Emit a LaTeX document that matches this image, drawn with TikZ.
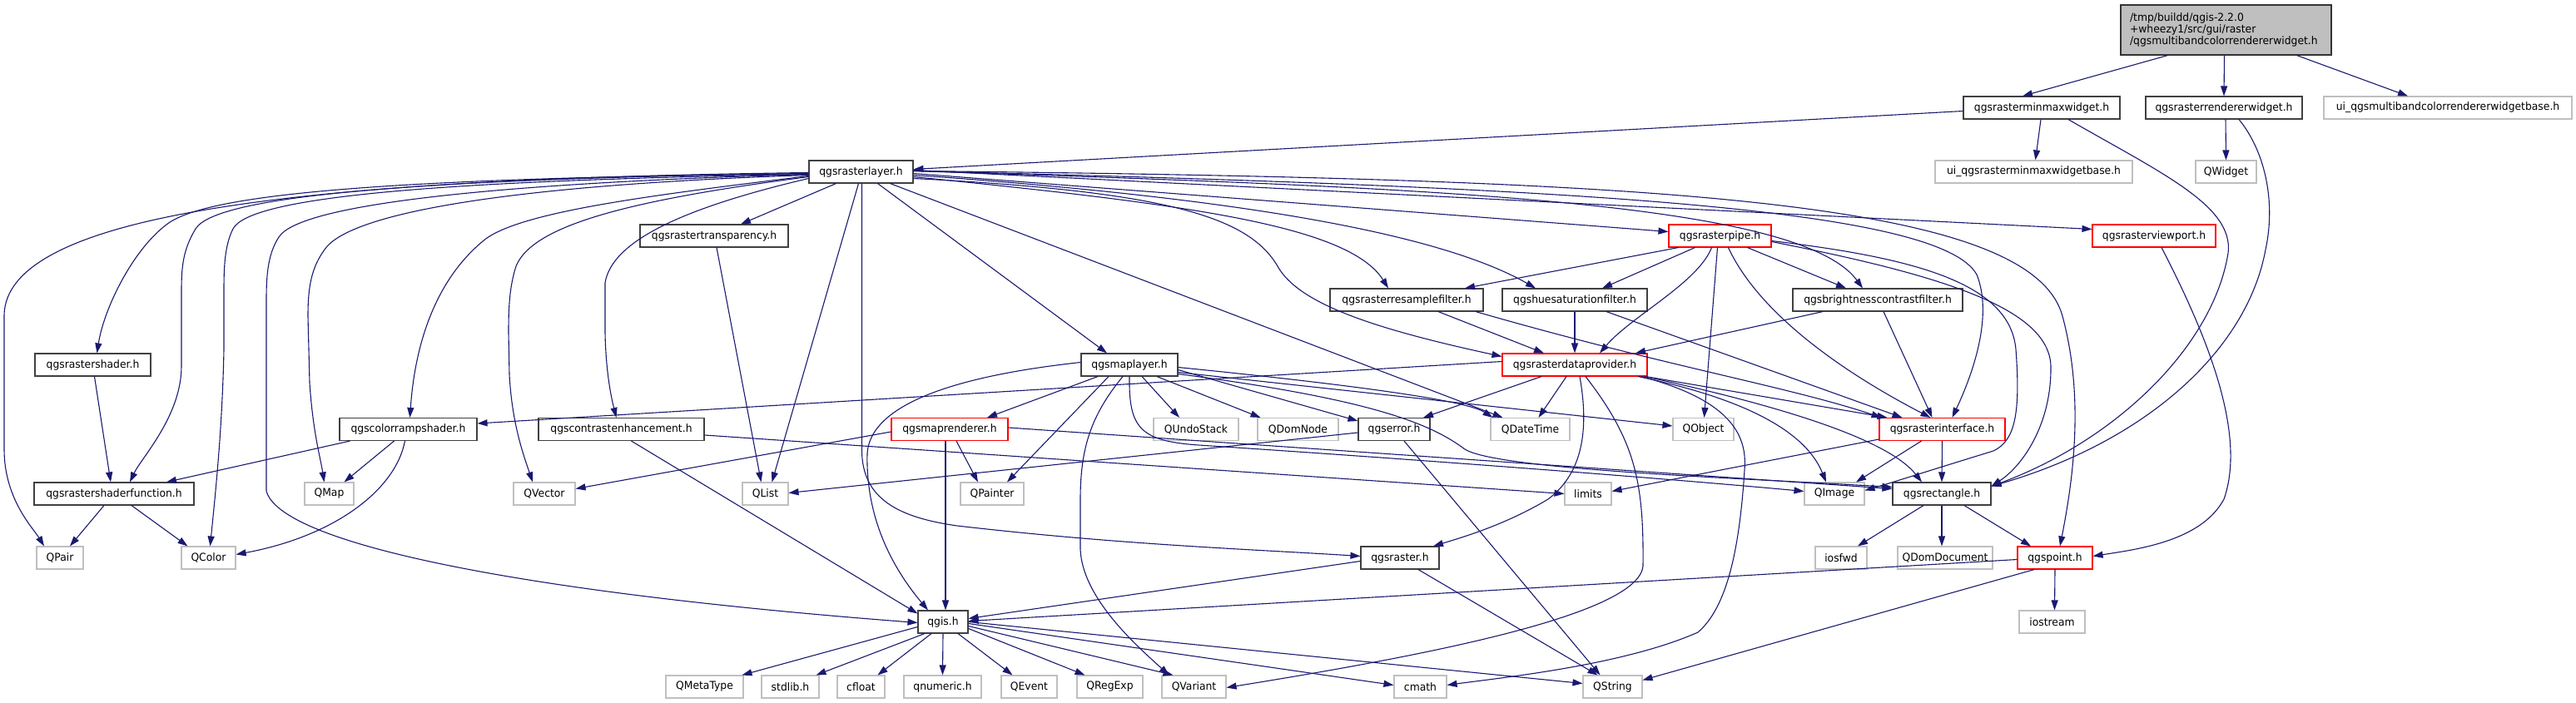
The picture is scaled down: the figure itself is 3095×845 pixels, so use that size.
\documentclass[tikz,border=0pt]{standalone}
\usepackage{fontspec}
\setmainfont{DejaVu Sans}[FakeStretch=0.95]
\usetikzlibrary{arrows.meta}
\definecolor{mblue}{HTML}{191970}
\definecolor{extgray}{HTML}{BFBFBF}
\begin{document}
\begin{tikzpicture}[x=1pt,y=-1pt,
  base/.style={rectangle,inner sep=0pt,minimum height=27pt,line width=1.1pt,fill=white,font=\fontsize{13}{14}\selectfont},
  doc/.style={base,draw=black!75},
  ext/.style={base,draw=extgray},
  trunc/.style={base,draw=red},
  mainbox/.style={base,draw=black!80,fill=extgray,align=left,inner xsep=11pt,text width=231pt,minimum height=60pt},
  edge/.style={draw=mblue,line width=1.1pt,-{Triangle[length=12pt,width=8pt]}}]
\useasboundingbox (0,0) rectangle (3095,845);
% nodes
\node[mainbox] (main) at (2674.5,36) {/tmp/buildd/qgis-2.2.0\\+wheezy1/src/gui/raster\\/qgsmultibandcolorrendererwidget.h};
\node[doc,minimum width=188] (rminmax) at (2453,129.5) {qgsrasterminmaxwidget.h};
\node[doc,minimum width=188] (rrendw) at (2672,129.5) {qgsrasterrendererwidget.h};
\node[ext,minimum width=298] (uimulti) at (2941,129.5) {ui\_qgsmultibandcolorrendererwidgetbase.h};
\node[doc,minimum width=125] (rlayer) at (1034.5,206.5) {qgsrasterlayer.h};
\node[ext,minimum width=237] (uiminmax) at (2443.5,206.5) {ui\_qgsrasterminmaxwidgetbase.h};
\node[ext,minimum width=73] (qwidget) at (2674.5,206.5) {QWidget};
\node[doc,minimum width=178] (rtransp) at (858,283.5) {qgsrastertransparency.h};
\node[trunc,minimum width=123] (rpipe) at (2066.5,283.5) {qgsrasterpipe.h};
\node[trunc,minimum width=148] (rviewport) at (2588,283.5) {qgsrasterviewport.h};
\node[doc,minimum width=184] (rresample) at (1690,360.5) {qgsrasterresamplefilter.h};
\node[doc,minimum width=174] (huesat) at (1892,360.5) {qgshuesaturationfilter.h};
\node[doc,minimum width=204] (brightness) at (2256,360.5) {qgsbrightnesscontrastfilter.h};
\node[doc,minimum width=139] (rshader) at (111.5,438.5) {qgsrastershader.h};
\node[doc,minimum width=116] (maplayer) at (1357,438.5) {qgsmaplayer.h};
\node[trunc,minimum width=174] (rdataprov) at (1892,438.5) {qgsrasterdataprovider.h};
\node[doc,minimum width=165] (colorramp) at (490.5,516) {qgscolorrampshader.h};
\node[doc,minimum width=199] (contrast) at (746.5,516) {qgscontrastenhancement.h};
\node[trunc,minimum width=140] (maprend) at (1141,516) {qgsmaprenderer.h};
\node[ext,minimum width=102] (qundo) at (1437,516) {QUndoStack};
\node[ext,minimum width=97] (qdomnode) at (1559.5,516) {QDomNode};
\node[doc,minimum width=86] (qgserror) at (1675,516) {qgserror.h};
\node[ext,minimum width=95] (qdatetime) at (1838.5,516) {QDateTime};
\node[ext,minimum width=73] (qobject) at (2046.5,516) {QObject};
\node[trunc,minimum width=151] (rinterface) at (2333.5,516) {qgsrasterinterface.h};
\node[doc,minimum width=192] (rshaderfn) at (137,593.5) {qgsrastershaderfunction.h};
\node[ext,minimum width=59] (qmap) at (395.5,593.5) {QMap};
\node[ext,minimum width=74] (qvector) at (654,593.5) {QVector};
\node[ext,minimum width=55] (qlist) at (919.5,593.5) {QList};
\node[ext,minimum width=76] (qpainter) at (1192,593.5) {QPainter};
\node[ext,minimum width=56] (limits) at (1908,593.5) {limits};
\node[ext,minimum width=72] (qimage) at (2204,593.5) {QImage};
\node[doc,minimum width=118] (qgsrect) at (2333,593.5) {qgsrectangle.h};
\node[ext,minimum width=56] (qpair) at (72,670.5) {QPair};
\node[ext,minimum width=65] (qcolor) at (250.5,670.5) {QColor};
\node[doc,minimum width=94] (qgsraster) at (1682,670.5) {qgsraster.h};
\node[ext,minimum width=62] (iosfwd) at (2212,670.5) {iosfwd};
\node[ext,minimum width=114] (qdomdoc) at (2337,670.5) {QDomDocument};
\node[trunc,minimum width=90] (qgspoint) at (2469,670.5) {qgspoint.h};
\node[doc,minimum width=60] (qgis) at (1133,747.5) {qgis.h};
\node[ext,minimum width=79] (iostream) at (2465.5,747.5) {iostream};
\node[ext,minimum width=93] (qmetatype) at (846.5,825.5) {QMetaType};
\node[ext,minimum width=69] (stdlib) at (949.5,825.5) {stdlib.h};
\node[ext,minimum width=57] (cfloat) at (1034.5,825.5) {cfloat};
\node[ext,minimum width=93] (qnumeric) at (1132.5,825.5) {qnumeric.h};
\node[ext,minimum width=67] (qevent) at (1236.5,825.5) {QEvent};
\node[ext,minimum width=79] (qregexp) at (1333.5,825.5) {QRegExp};
\node[ext,minimum width=77] (qvariant) at (1434.5,825.5) {QVariant};
\node[ext,minimum width=63] (cmath) at (1706.5,825.5) {cmath};
\node[ext,minimum width=71] (qstring) at (1937.5,825.5) {QString};
% main
\draw[edge] ([xshift=-70]main.south) -- ([xshift=-23]rminmax.north);
\draw[edge] ([xshift=-2]main.south) -- (rrendw.north);
\draw[edge] ([xshift=85]main.south) -- ([xshift=-48]uimulti.north);
% rminmax
\draw[edge] ([yshift=-4]rminmax.west) -- ([yshift=3]rlayer.east);
\draw[edge] ([xshift=-1]rminmax.south) -- ([xshift=2]uiminmax.north);
\draw[edge] ([xshift=32]rminmax.south) .. controls (2600,210) and (2690,250) .. (2676,310) .. controls (2655,420) and (2540,530) .. ([yshift=9]qgsrect.east);
% rrendw
\draw[edge] ([xshift=2]rrendw.south) -- (qwidget.north);
\draw[edge] ([xshift=18]rrendw.south) .. controls (2720,180) and (2735,240) .. (2722,300) .. controls (2700,420) and (2580,530) .. ([yshift=9]qgsrect.east);
% rlayer left bundle
\draw[edge] ([yshift=-1]rlayer.west) .. controls (400,215) and (5,250) .. (5,380) -- (5,540) .. controls (5,600) and (40,635) .. ([xshift=-19]qpair.north);
\draw[edge] ([yshift=-2]rlayer.west) .. controls (500,214) and (250,230) .. (200,270) .. controls (160,300) and (125,370) .. ([xshift=5]rshader.north);
\draw[edge] ([yshift=-2]rlayer.west) .. controls (500,215) and (260,235) .. (235,275) .. controls (220,300) and (218,320) .. (218,350) -- (218,440) .. controls (218,500) and (170,550) .. ([xshift=19]rshaderfn.north);
\draw[edge] ([yshift=-3]rlayer.west) .. controls (520,217) and (300,237) .. (280,275) .. controls (270,295) and (269,320) .. (269,350) -- (269,420) .. controls (267,520) and (258,600) .. ([xshift=2]qcolor.north);
\draw[edge] ([yshift=-3]rlayer.west) .. controls (600,220) and (360,245) .. (335,285) .. controls (322,305) and (320,330) .. (320,360) -- (320,590) .. controls (335,650) and (600,710) .. ([yshift=-1]qgis.west);
\draw[edge] ([yshift=-4]rlayer.west) .. controls (620,222) and (420,255) .. (390,300) .. controls (374,322) and (370,345) .. (370,380) -- (372,460) .. controls (376,520) and (385,550) .. ([xshift=-6]qmap.north);
\draw[edge] ([yshift=-5]rlayer.west) .. controls (780,235) and (620,255) .. (580,290) .. controls (520,340) and (498,420) .. ([xshift=2]colorramp.north);
\draw[edge] ([yshift=-6]rlayer.west) .. controls (760,240) and (640,270) .. (620,320) .. controls (612,345) and (611,370) .. (611,400) -- (612,450) .. controls (615,510) and (630,550) .. ([xshift=-14]qvector.north);
\draw[edge] ([yshift=-8]rlayer.west) .. controls (820,250) and (735,290) .. (727,340) -- (727,400) .. controls (728,450) and (735,480) .. ([xshift=-6]contrast.north);
% rlayer bottom
\draw[edge] ([xshift=-30]rlayer.south) -- ([xshift=32]rtransp.north);
\draw[edge] ([xshift=-3]rlayer.south) -- ([xshift=8]qlist.north);
\draw[edge] ([xshift=1]rlayer.south) -- (1035.5,540) .. controls (1035,600) and (1080,622) .. (1150,632) .. controls (1350,655) and (1500,660) .. ([yshift=2]qgsraster.west);
\draw[edge] ([xshift=20]rlayer.south) -- ([xshift=-27]maplayer.north);
\draw[edge] ([xshift=35]rlayer.south) -- ([xshift=-33]qdatetime.north);
% rlayer right bundle
\draw[edge] ([yshift=-6]rlayer.east) .. controls (1420,245) and (1620,270) .. ([xshift=-22]rresample.north);
\draw[edge] ([yshift=-4]rlayer.east) .. controls (1450,235) and (1720,275) .. ([xshift=-47]huesat.north);
\draw[edge] ([yshift=-2]rlayer.east) -- ([yshift=5]rpipe.west);
\draw[edge] ([yshift=-8]rlayer.east) .. controls (1400,230) and (1500,260) .. (1535,320) .. controls (1560,365) and (1650,395) .. ([yshift=10]rdataprov.west);
\draw[edge] ([yshift=1]rlayer.east) .. controls (1700,225) and (2160,240) .. ([xshift=-18]brightness.north);
\draw[edge] ([yshift=2]rlayer.east) -- ([yshift=8]rviewport.west);
\draw[edge] ([yshift=1]rlayer.east) .. controls (1900,225) and (2330,250) .. (2375,330) .. controls (2395,380) and (2370,450) .. ([xshift=12]rinterface.north);
\draw[edge] ([yshift=1]rlayer.east) .. controls (2000,215) and (2440,240) .. (2478,380) .. controls (2505,480) and (2490,580) .. ([xshift=6]qgspoint.north);
% rtransp
\draw[edge] ([xshift=3]rtransp.south) -- ([xshift=-5]qlist.north);
% rpipe
\draw[edge] ([xshift=-50]rpipe.south) -- ([xshift=70]rresample.north);
\draw[edge] ([xshift=-30]rpipe.south) -- ([xshift=33]huesat.north);
\draw[edge] ([xshift=-10]rpipe.south) .. controls (2040,340) and (1960,380) .. ([xshift=30]rdataprov.north);
\draw[edge] ([xshift=-3]rpipe.south) -- ([xshift=1]qobject.north);
\draw[edge] ([xshift=10]rpipe.south) .. controls (2110,370) and (2200,440) .. ([xshift=-14]rinterface.north);
\draw[edge] ([xshift=33]rpipe.south) -- ([xshift=-38]brightness.north);
\draw[edge] ([yshift=-6]rpipe.east) .. controls (2300,310) and (2415,340) .. (2422,420) .. controls (2428,500) and (2420,530) .. (2395,542) .. controls (2320,565) and (2280,578) .. ([yshift=4]qimage.east);
\draw[edge] ([yshift=-7]rpipe.east) .. controls (2330,330) and (2462,370) .. (2464,440) .. controls (2465,510) and (2430,560) .. ([yshift=9]qgsrect.east);
% rviewport
\draw[edge] ([xshift=9]rviewport.south) .. controls (2650,400) and (2700,520) .. (2672,600) .. controls (2645,650) and (2570,660) .. ([yshift=2]qgspoint.east);
% filters
\draw[edge] ([xshift=38]rresample.south) -- ([xshift=-37]rdataprov.north);
\draw[edge] ([xshift=83]rresample.south) .. controls (2000,440) and (2150,465) .. ([xshift=-73]rinterface.north);
\draw[edge] (huesat.south) -- (rdataprov.north);
\draw[edge] ([xshift=38]huesat.south) -- ([xshift=-48]rinterface.north);
\draw[edge] ([xshift=-66]brightness.south) -- ([xshift=73]rdataprov.north);
\draw[edge] ([xshift=7]brightness.south) -- ([xshift=-12]rinterface.north);
% rdataprov
\draw[edge] ([yshift=4]rdataprov.west) -- ([yshift=7]colorramp.east);
\draw[edge] ([xshift=-40]rdataprov.south) -- ([xshift=35]qgserror.north);
\draw[edge] ([xshift=-10]rdataprov.south) -- ([xshift=10]qdatetime.north);
\draw[edge] ([xshift=6]rdataprov.south) .. controls (1910,520) and (1900,570) .. (1860,600) .. controls (1810,630) and (1760,645) .. ([xshift=40]qgsraster.north);
\draw[edge] ([xshift=13]rdataprov.south) .. controls (1965,530) and (1975,580) .. (1974,680) .. controls (1970,740) and (1700,790) .. ([yshift=-1]qvariant.east);
\draw[edge] ([xshift=80]rdataprov.south) .. controls (2075,480) and (2100,520) .. (2096,565) .. controls (2090,660) and (2075,730) .. (2040,760) .. controls (1950,800) and (1800,815) .. ([yshift=2]cmath.east);
\draw[edge] ([xshift=76]rdataprov.south) .. controls (2100,480) and (2170,520) .. ([xshift=-10]qimage.north);
\draw[edge] ([xshift=85]rdataprov.south) -- ([xshift=-66]rinterface.north);
\draw[edge] ([xshift=84]rdataprov.south) .. controls (2150,490) and (2270,530) .. ([xshift=-24]qgsrect.north);
% qgserror
\draw[edge] ([yshift=-4]qgserror.west) -- ([yshift=1]qlist.east);
\draw[edge] ([xshift=12]qgserror.south) -- ([xshift=-15]qstring.north);
% maplayer
\draw[edge] ([xshift=-38]maplayer.south) -- ([xshift=45]maprend.north);
\draw[edge] ([xshift=-25]maplayer.south) -- ([xshift=18]qpainter.north);
\draw[edge] ([xshift=-8]maplayer.south) .. controls (1310,500) and (1298,540) .. (1298,600) -- (1298,660) .. controls (1300,720) and (1370,780) .. ([xshift=-30]qvariant.north);
\draw[edge] (maplayer.south) .. controls (1356,515) and (1370,530) .. (1440,535) .. controls (1700,552) and (2000,575) .. ([yshift=3]qimage.west);
\draw[edge] ([xshift=15]maplayer.south) -- ([xshift=-20]qundo.north);
\draw[edge] ([xshift=33]maplayer.south) -- ([xshift=-45]qdomnode.north);
\draw[edge] ([yshift=3]maplayer.west) .. controls (1120,455) and (1045,495) .. (1042,545) .. controls (1040,620) and (1070,680) .. ([xshift=-18]qgis.north);
\draw[edge] ([yshift=-6]maplayer.east) -- ([yshift=10]qgserror.west);
\draw[edge] ([yshift=-3]maplayer.east) .. controls (1600,460) and (1760,480) .. ([xshift=-45]qdatetime.north);
\draw[edge] ([yshift=-9]maplayer.east) -- ([yshift=4]qobject.west);
\draw[edge] ([yshift=-11]maplayer.east) .. controls (1650,480) and (1720,510) .. (1760,540) .. controls (1800,565) and (2100,575) .. ([yshift=8]qgsrect.west);
% maprend
\draw[edge] ([xshift=8]maprend.south) -- ([xshift=-17]qpainter.north);
\draw[edge] ([xshift=-5]maprend.south) -- ([xshift=3]qgis.north);
\draw[edge] ([yshift=-3]maprend.west) -- ([yshift=6]qvector.east);
\draw[edge] ([yshift=2]maprend.east) -- ([yshift=6]qgsrect.west);
% contrast
\draw[edge] ([xshift=12]contrast.south) -- ([yshift=10]qgis.west);
\draw[edge] ([yshift=-7]contrast.east) -- (limits.west);
% rinterface
\draw[edge] ([yshift=-12]rinterface.west) -- ([yshift=3]limits.east);
\draw[edge] ([xshift=-25]rinterface.south) -- ([xshift=26]qimage.north);
\draw[edge] (rinterface.south) -- (qgsrect.north);
% qgsrect
\draw[edge] ([xshift=-22]qgsrect.south) -- ([xshift=20]iosfwd.north);
\draw[edge] (qgsrect.south) -- ([xshift=-4]qdomdoc.north);
\draw[edge] ([xshift=27]qgsrect.south) -- ([xshift=-29]qgspoint.north);
% qgspoint
\draw[edge] ([yshift=-2]qgspoint.west) -- ([yshift=1]qgis.east);
\draw[edge] (qgspoint.south) -- ([xshift=3]iostream.north);
\draw[edge] ([xshift=-25]qgspoint.south) -- ([yshift=8]qstring.east);
% qgsraster
\draw[edge] ([yshift=-4]qgsraster.west) -- ([yshift=4]qgis.east);
\draw[edge] ([xshift=22]qgsraster.south) -- ([xshift=-18]qstring.north);
% qgis
\draw[edge] ([yshift=-6]qgis.west) -- ([xshift=45]qmetatype.north);
\draw[edge] ([xshift=-22]qgis.south) -- ([xshift=31]stdlib.north);
\draw[edge] ([xshift=-14]qgis.south) -- ([xshift=20]cfloat.north);
\draw[edge] (qgis.south) -- (qnumeric.north);
\draw[edge] ([xshift=18]qgis.south) -- ([xshift=-20]qevent.north);
\draw[edge] ([yshift=-8]qgis.east) -- ([xshift=-30]qregexp.north);
\draw[edge] ([yshift=-5]qgis.east) -- ([xshift=-25]qvariant.north);
\draw[edge] ([yshift=-2]qgis.east) -- ([yshift=2]cmath.west);
\draw[edge] (qgis.east) -- ([yshift=4]qstring.west);
% shaders
\draw[edge] ([xshift=-70]colorramp.south) -- ([xshift=63]rshaderfn.north);
\draw[edge] ([xshift=-17]colorramp.south) -- ([xshift=18]qmap.north);
\draw[edge] ([xshift=-4]colorramp.south) .. controls (475,590) and (400,645) .. ([yshift=4]qcolor.east);
\draw[edge] ([xshift=2]rshader.south) -- ([xshift=-4]rshaderfn.north);
\draw[edge] ([xshift=-12]rshaderfn.south) -- ([xshift=12]qpair.north);
\draw[edge] ([xshift=21]rshaderfn.south) -- ([xshift=-25]qcolor.north);
\end{tikzpicture}
\end{document}
